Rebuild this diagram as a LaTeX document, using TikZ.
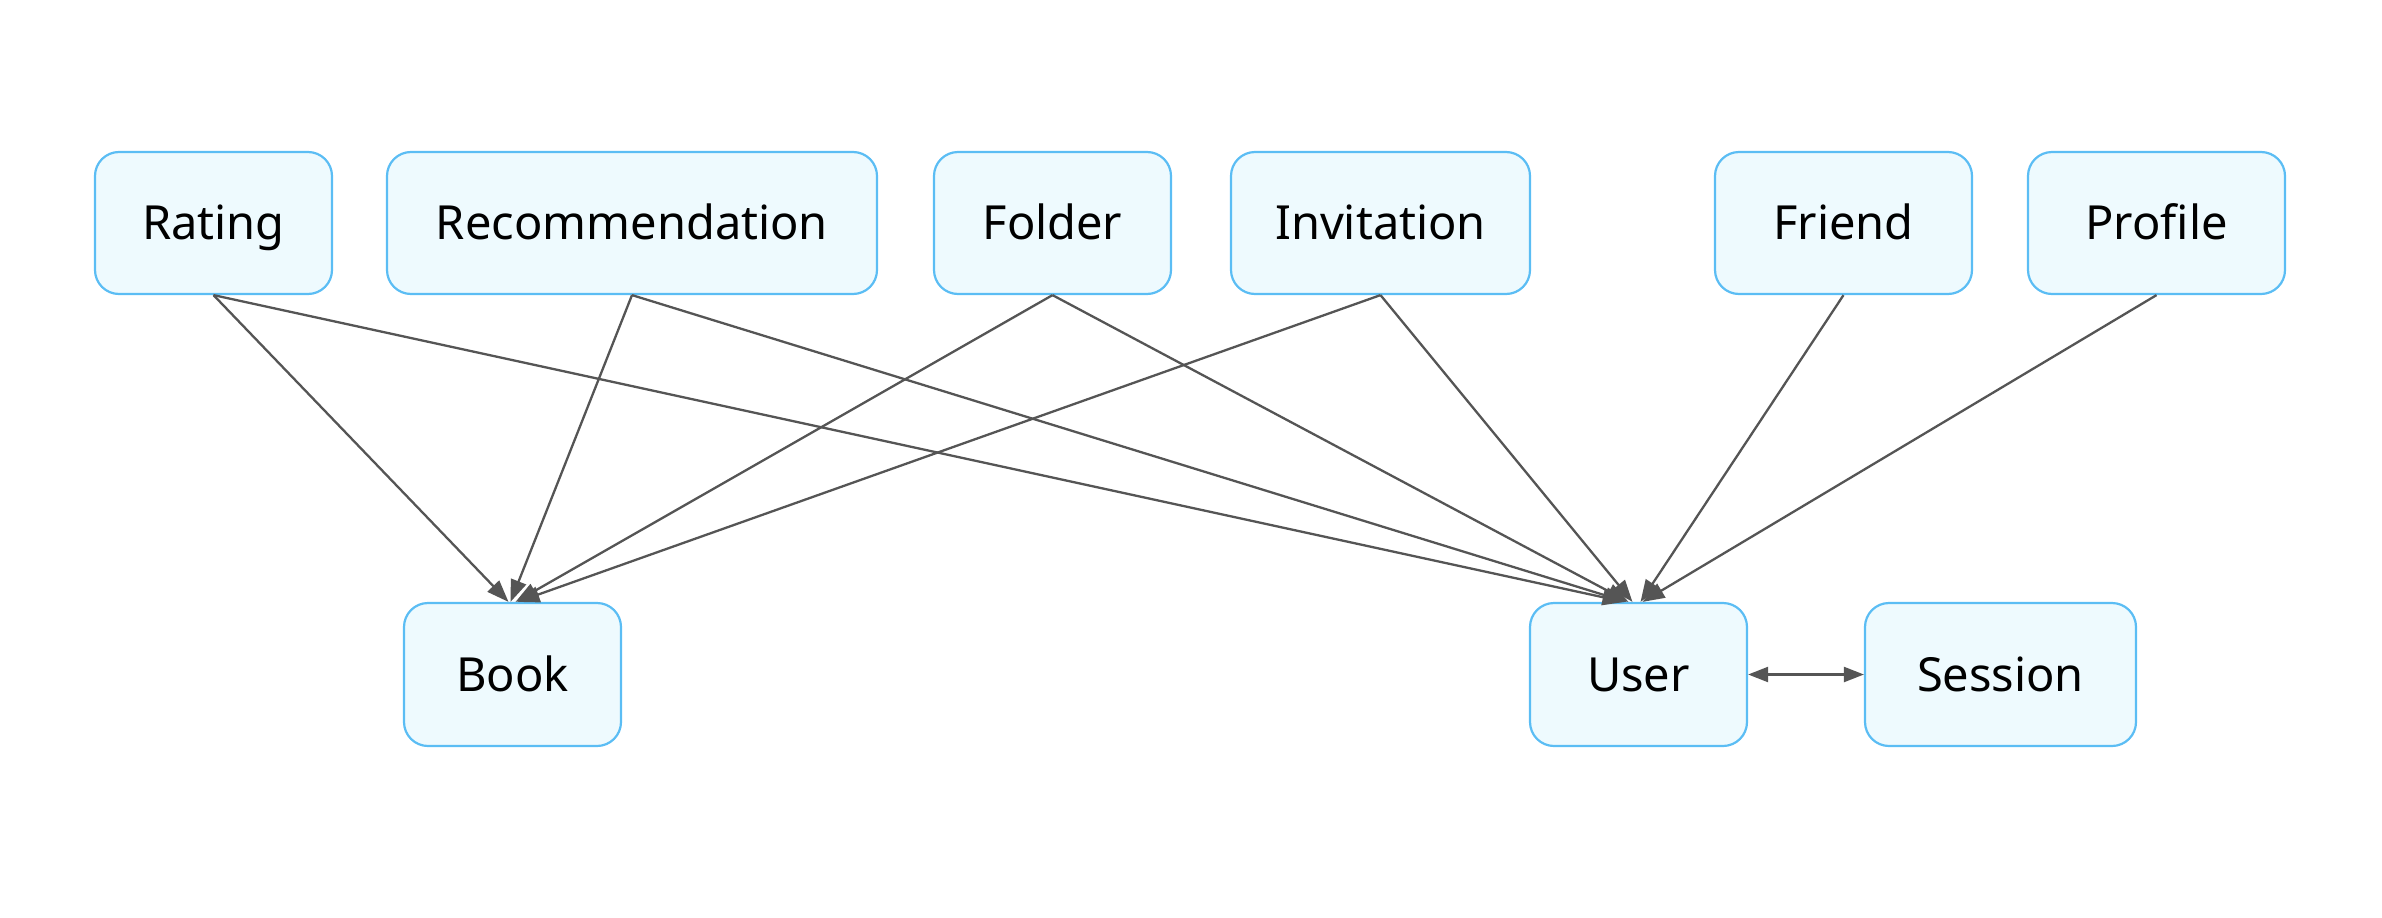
\documentclass[tikz,border=0pt]{standalone}
\usepackage{fontspec}
\setmainfont{Noto Sans}
\usetikzlibrary{arrows.meta}
\definecolor{boxfill}{HTML}{EEFAFE}
\definecolor{boxline}{HTML}{5BBDF4}
\definecolor{edgecol}{HTML}{555555}
\begin{document}
\begin{tikzpicture}[x=1pt,y=-1pt,
  entity/.style={draw=boxline,fill=boxfill,line width=2.2pt,rounded corners=24pt,inner sep=0pt,
    font=\fontsize{47}{56}\selectfont,text height=38.5pt,text depth=5.5pt},
  rel/.style={draw=edgecol,line width=2.3pt,-{Triangle[length=22pt,width=16pt]}},
  birel/.style={draw=edgecol,line width=2.3pt,{Triangle[length=20pt,width=15pt]}-{Triangle[length=20pt,width=15pt]}}]
\useasboundingbox (0,0) rectangle (2382,918);
\def\ent#1#2#3#4#5#6{\node[entity,minimum width={#4-#2},minimum height={#5-#3}] (#1) at ({(#2+#4)/2},{(#3+#5)/2}) {#6};}
\ent{rating}{95}{152}{332}{294}{Rating}
\ent{recom}{387}{152}{877}{294}{Recommendation}
\ent{folder}{934}{152}{1171}{294}{Folder}
\ent{invit}{1231}{152}{1530}{294}{Invitation}
\ent{friend}{1715}{152}{1972}{294}{Friend}
\ent{profile}{2028}{152}{2285}{294}{Profile}
\ent{book}{404}{603}{621}{746}{Book}
\ent{user}{1530}{603}{1747}{746}{User}
\ent{session}{1865}{603}{2136}{746}{Session}
\draw[rel] (rating.south) -- ([xshift=-4pt]book.north);
\draw[rel] (recom.south) -- ([xshift=-2pt]book.north);
\draw[rel] (folder.south) -- ([xshift=3pt]book.north);
\draw[rel] (invit.south) -- ([xshift=5pt]book.north);
\draw[rel] (rating.south) -- ([xshift=-14pt]user.north);
\draw[rel] (recom.south) -- ([xshift=-12pt]user.north);
\draw[rel] (folder.south) -- ([xshift=-10pt]user.north);
\draw[rel] (invit.south) -- ([xshift=-6pt]user.north);
\draw[rel] (friend.south) -- ([xshift=2pt]user.north);
\draw[rel] (profile.south) -- ([xshift=4pt]user.north);
\draw[birel] (user.east) -- (session.west);
\end{tikzpicture}
\end{document}
